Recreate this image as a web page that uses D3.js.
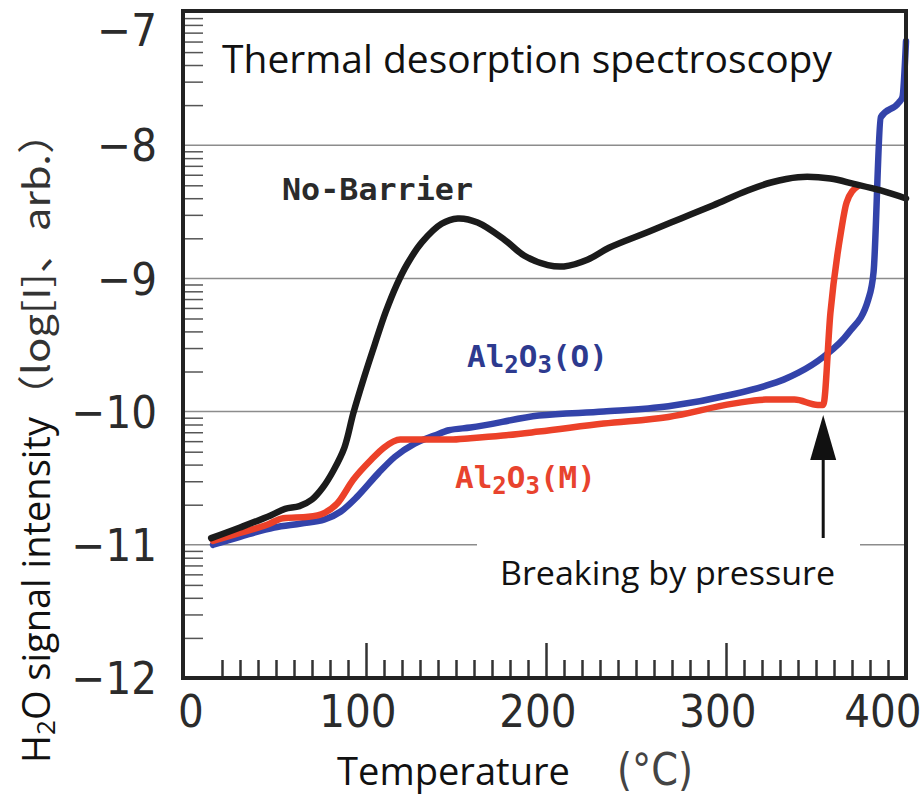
<!DOCTYPE html>
<head>
<meta charset="utf-8">
<script src="https://d3js.org/d3.v7.min.js"></script>
<style>
    body { margin: 0; background: #fff; }
    .tick-label { font-family: "Liberation Sans Narrow", "DejaVu Sans Condensed", sans-serif; font-size: 45px; fill: #2b2b2b; }
    .sans { font-family: "Open Sans", "Noto Sans", sans-serif; fill: #111; }
    .mono { font-family: "DejaVu Sans Mono", monospace; font-weight: bold; font-size: 31px; }
    .grid { stroke: #8c8c8c; stroke-width: 1.5; }
    .minor line { stroke: #555; stroke-width: 1.5; }
    .xt line { stroke: #333; stroke-width: 2.5; }
</style>
</head>
<body>
<script>
// temperature (degC) / log signal
var noBarrierT = [14, 30, 47, 55, 63, 70, 76, 82, 88, 93, 99, 105, 111, 117, 123, 131, 142, 151, 162, 177, 188, 201, 210, 223, 235, 257, 275, 293, 312, 325, 340, 358, 371, 386, 400];
var noBarrierV = [-10.95, -10.87, -10.78, -10.73, -10.71, -10.66, -10.57, -10.44, -10.27, -10.01, -9.74, -9.49, -9.25, -9.05, -8.89, -8.73, -8.59, -8.55, -8.58, -8.71, -8.83, -8.90, -8.91, -8.86, -8.77, -8.65, -8.55, -8.45, -8.34, -8.28, -8.24, -8.25, -8.29, -8.34, -8.40];

var al2o3MT = [15, 30, 45, 54, 68, 77, 84, 93, 103, 110, 119, 132, 147, 158, 176, 196, 232, 268, 304, 322, 338, 351, 354, 358, 364, 367, 373];
var al2o3MV = [-10.97, -10.91, -10.85, -10.80, -10.79, -10.76, -10.69, -10.51, -10.36, -10.27, -10.21, -10.21, -10.21, -10.20, -10.18, -10.15, -10.09, -10.04, -9.94, -9.91, -9.91, -9.95, -9.95, -9.26, -8.64, -8.43, -8.31];

var al2o3OT = [15, 30, 49, 64, 77, 86, 95, 107, 116, 127, 138, 146, 158, 196, 232, 268, 304, 321, 332, 340, 354, 368, 379, 382, 386, 396, 398, 400];
var al2o3OV = [-11.00, -10.94, -10.87, -10.84, -10.81, -10.75, -10.64, -10.46, -10.34, -10.24, -10.18, -10.14, -10.12, -10.03, -10.00, -9.96, -9.87, -9.81, -9.76, -9.71, -9.59, -9.41, -9.16, -8.95, -7.79, -7.68, -7.64, -7.22];

var xTicks = [0, 100, 200, 300, 400];
var yTicks = [-12, -11, -10, -9, -8, -7];
var gridVals = [-11, -10, -9, -8];

var width = 921, height = 796;
var frameL = 183, frameR = 906, frameT = 11, frameB = 678;

var x = d3.scaleLinear().domain([0, 400]).range([186, 906]);
var y = d3.scaleLinear().domain([-12, -7]).range([678, 12]);

var svg = d3.select("body").append("svg")
    .attr("width", width)
    .attr("height", height);

svg.append("rect").attr("width", width).attr("height", height).attr("fill", "#fff");

// grid
svg.selectAll("line.grid").data(gridVals).enter().append("line")
    .attr("class", "grid")
    .attr("x1", frameL).attr("x2", frameR)
    .attr("y1", function(d) { return y(d); })
    .attr("y2", function(d) { return y(d); });

// log minor ticks on the left
var minorY = [];
yTicks.slice(0, -1).forEach(function(d) {
    for (var k = 2; k <= 9; k++) minorY.push(d + Math.log10(k));
});
svg.append("g").attr("class", "minor")
    .attr("transform", "translate(" + frameL + ",0)")
    .call(d3.axisLeft(y).tickValues(minorY).tickSize(-20).tickFormat(""))
    .select(".domain").remove();

// x ticks
var minorX = d3.range(20, 400, 10).filter(function(d) { return d % 100 != 0; });
svg.append("g").attr("class", "xt")
    .attr("transform", "translate(0," + frameB + ")")
    .call(d3.axisBottom(x).tickValues(minorX).tickSize(-18).tickFormat(""))
    .select(".domain").remove();
svg.append("g").attr("class", "xt")
    .attr("transform", "translate(0," + frameB + ")")
    .call(d3.axisBottom(x).tickValues([100, 200, 300]).tickSize(-35).tickFormat(""))
    .select(".domain").remove();

// curves
var line = d3.line()
    .x(function(d) { return x(d[0]); })
    .y(function(d) { return y(d[1]); });

var series = [
    { t: al2o3OT, v: al2o3OV, color: "#3343aa", curve: d3.curveMonotoneX },
    { t: al2o3MT, v: al2o3MV, color: "#ec4129", curve: d3.curveMonotoneX },
    { t: noBarrierT, v: noBarrierV, color: "#1b1b1b", curve: d3.curveCatmullRom.alpha(0.5) }
];
series.forEach(function(s) {
    svg.append("path")
        .datum(d3.zip(s.t, s.v))
        .attr("d", line.curve(s.curve))
        .attr("fill", "none")
        .attr("stroke", s.color)
        .attr("stroke-width", 6.5)
        .attr("stroke-linejoin", "round")
        .attr("stroke-linecap", "round");
});

// frame
svg.append("rect")
    .attr("x", frameL).attr("y", frameT)
    .attr("width", frameR - frameL).attr("height", frameB - frameT)
    .attr("fill", "none").attr("stroke", "#222").attr("stroke-width", 4);

// tick labels
svg.selectAll("text.yl").data(yTicks).enter().append("text")
    .attr("class", "tick-label")
    .attr("x", 157)
    .attr("y", function(d) { return Math.max(y(d), 30); })
    .attr("dy", "0.36em")
    .attr("text-anchor", "end")
    .text(function(d) { return "\u2212" + Math.abs(d); });

svg.selectAll("text.xl").data(xTicks).enter().append("text")
    .attr("class", "tick-label")
    .attr("x", function(d) { return Math.min(Math.max(x(d) - 8, 191), 883); })
    .attr("y", 727)
    .attr("text-anchor", "middle")
    .text(function(d) { return d; });

// title
svg.append("text").attr("class", "sans")
    .attr("x", 222).attr("y", 73)
    .attr("font-size", 39)
    .attr("textLength", 610).attr("lengthAdjust", "spacingAndGlyphs")
    .text("Thermal desorption spectroscopy");

// series labels
svg.append("text").attr("class", "mono")
    .attr("x", 282).attr("y", 200)
    .attr("fill", "#2a2a2a")
    .attr("textLength", 191).attr("lengthAdjust", "spacingAndGlyphs")
    .text("No-Barrier");

function alLabel(px, py, tag, color) {
    var t = svg.append("text").attr("class", "mono")
        .attr("x", px).attr("y", py).attr("fill", color);
    t.append("tspan").text("Al");
    t.append("tspan").attr("font-size", 24).attr("dy", 6).text("2");
    t.append("tspan").attr("dy", -6).text("O");
    t.append("tspan").attr("font-size", 24).attr("dy", 6).text("3");
    t.append("tspan").attr("dy", -6).text("(" + tag + ")");
}
alLabel(467, 367, "O", "#2d3a8f");
alLabel(455, 488, "M", "#e8432e");

// annotation
svg.append("rect")
    .attr("x", 477).attr("y", 541).attr("width", 383).attr("height", 60)
    .attr("fill", "#fff");
svg.append("text").attr("class", "sans")
    .attr("x", 500).attr("y", 585)
    .attr("font-size", 33)
    .attr("textLength", 335).attr("lengthAdjust", "spacingAndGlyphs")
    .text("Breaking by pressure");

var ax = x(354);
svg.append("line")
    .attr("x1", ax).attr("x2", ax).attr("y1", 538).attr("y2", 455)
    .attr("stroke", "#111").attr("stroke-width", 3);
svg.append("path")
    .attr("d", "M" + ax + ",415L" + (ax + 13) + ",460L" + (ax - 13) + ",460Z")
    .attr("fill", "#111");

// axis titles
svg.append("text").attr("class", "sans")
    .attr("x", 337).attr("y", 785)
    .attr("font-size", 39)
    .attr("textLength", 233).attr("lengthAdjust", "spacingAndGlyphs")
    .text("Temperature");
svg.append("text").attr("class", "tick-label")
    .attr("x", 617).attr("y", 785)
    .attr("font-size", 44).style("fill", "#444")
    .attr("textLength", 76).attr("lengthAdjust", "spacingAndGlyphs")
    .text("(\u00b0C)");

var yt = svg.append("text").attr("class", "sans")
    .attr("transform", "translate(50,763) rotate(-90)")
    .attr("font-size", 38);
yt.append("tspan").text("H");
yt.append("tspan").attr("font-size", 26).attr("dy", 5).text("2");
yt.append("tspan").attr("dy", -5).text("O signal intensity");
yt.append("tspan")
    .attr("font-family", "'Noto Sans CJK JP', sans-serif")
    .attr("font-size", 37).style("fill", "#333")
    .attr("textLength", 305).attr("lengthAdjust", "spacingAndGlyphs")
    .text("\uff08log[I]\u3001arb.\uff09");
</script>
</body>
